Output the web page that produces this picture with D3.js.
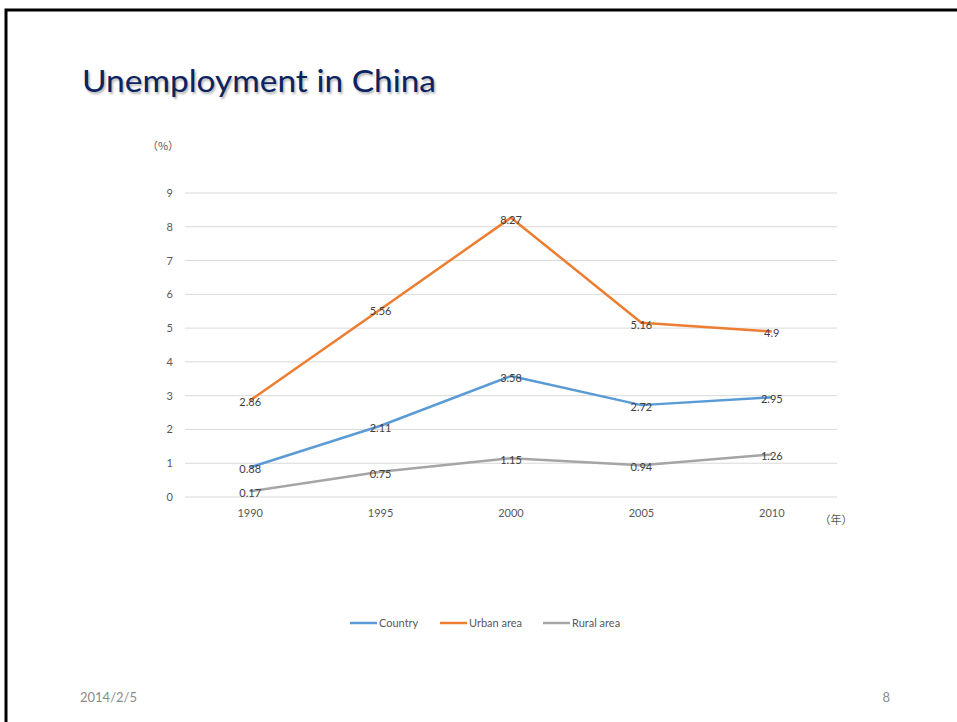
<!DOCTYPE html>
<html>
<head>
<meta charset="utf-8">
<script src="https://cdn.jsdelivr.net/npm/d3@7"></script>
<style>
  body { margin: 0; background: #fff; }
  svg { display: block; }
</style>
</head>
<body>
<svg id="slide" width="957" height="722"></svg>
<script>
// chart data
let years = ['1990', '1995', '2000', '2005', '2010'];
let country = [0.88, 2.11, 3.58, 2.72, 2.95];
let urban = [2.86, 5.56, 8.27, 5.16, 4.9];
let rural = [0.17, 0.75, 1.15, 0.94, 1.26];
let yTicks = [0, 1, 2, 3, 4, 5, 6, 7, 8, 9];

let seriesList = [
	{'name': 'Country', 'values': country, 'color': '#5b9bd5'},
	{'name': 'Urban area', 'values': urban, 'color': '#ed7d31'},
	{'name': 'Rural area', 'values': rural, 'color': '#a5a5a5'}
];

let font = 'Lato';
let svg = d3.select('#slide');

// soft shadow for the title
svg.append('defs').append('filter')
	.attr('id', 'blur')
	.append('feGaussianBlur')
	.attr('stdDeviation', 0.8);

// slide frame
svg.append('rect')
	.attr('x', 6)
	.attr('y', 10)
	.attr('width', 1000)
	.attr('height', 800)
	.attr('fill', 'none')
	.attr('stroke', '#000')
	.attr('stroke-width', 3);

svg.append('text')
	.text('Unemployment in China')
	.attr('x', 83.5)
	.attr('y', 93.5)
	.attr('font-family', font)
	.attr('font-size', 31)
	.attr('textLength', 354)
	.attr('lengthAdjust', 'spacingAndGlyphs')
	.attr('fill', '#b0b0b0')
	.attr('filter', 'url(#blur)');
svg.append('text')
	.text('Unemployment in China')
	.attr('x', 82)
	.attr('y', 92)
	.attr('font-family', font)
	.attr('font-size', 31)
	.attr('textLength', 354)
	.attr('lengthAdjust', 'spacingAndGlyphs')
	.attr('fill', '#0b2360');

let plotLeft = 185, plotRight = 837, plotTop = 193, plotBottom = 497;

let x = d3.scaleBand().domain(years).range([plotLeft, plotRight]);
let y = d3.scaleLinear().domain([0, 9]).range([plotBottom, plotTop]);

// gridlines
svg.append('g')
	.selectAll('line')
	.data(yTicks)
	.enter().append('line')
	.attr('x1', plotLeft)
	.attr('x2', plotRight)
	.attr('y1', function (d) { return y(d); })
	.attr('y2', function (d) { return y(d); })
	.attr('stroke', '#d9d9d9')
	.attr('stroke-width', 1);

// y axis labels
let yAxis = svg.append('g')
	.attr('transform', 'translate(' + (plotLeft - 12) + ',0)')
	.call(d3.axisLeft(y).tickValues(yTicks).tickSize(0).tickPadding(0));
yAxis.select('.domain').remove();
yAxis.selectAll('text')
	.attr('font-family', font)
	.attr('font-size', 11)
	.attr('fill', '#595959');

// x axis labels
let xAxis = svg.append('g')
	.attr('transform', 'translate(0,' + (plotBottom + 12) + ')')
	.call(d3.axisBottom(x).tickSize(0).tickPadding(0));
xAxis.select('.domain').remove();
xAxis.selectAll('text')
	.attr('font-family', font)
	.attr('font-size', 11)
	.attr('fill', '#595959');

// unit labels
svg.append('text')
	.text('（%）')
	.attr('x', 163)
	.attr('y', 150)
	.attr('text-anchor', 'middle')
	.attr('font-family', 'Noto Sans CJK SC')
	.attr('font-size', 11)
	.attr('fill', '#595959');
svg.append('text')
	.text('（年）')
	.attr('x', 836)
	.attr('y', 524)
	.attr('text-anchor', 'middle')
	.attr('font-family', 'Noto Sans CJK SC')
	.attr('font-size', 11)
	.attr('fill', '#595959');

let line = d3.line()
	.x(function (d, i) { return x(years[i]) + x.bandwidth() / 2; })
	.y(function (d) { return y(d); });

for (let s of seriesList) {
	svg.append('path')
		.datum(s.values)
		.attr('d', line)
		.attr('fill', 'none')
		.attr('stroke', s.color)
		.attr('stroke-width', 2.5)
		.attr('stroke-linejoin', 'round');
}

// data labels sit on top of the points
for (let s of seriesList) {
	svg.append('g')
		.selectAll('text')
		.data(s.values)
		.enter().append('text')
		.text(function (d) { return d; })
		.attr('x', function (d, i) { return x(years[i]) + x.bandwidth() / 2; })
		.attr('y', function (d) { return y(d) + 6; })
		.attr('text-anchor', 'middle')
		.attr('font-family', font)
		.attr('font-size', 11)
		.attr('fill', '#404040');
}

// legend
let legendX = [350, 440, 543];
seriesList.forEach(function (s, i) {
	let group = svg.append('g');
	group.append('line')
		.attr('x1', legendX[i])
		.attr('x2', legendX[i] + 27)
		.attr('y1', 623)
		.attr('y2', 623)
		.attr('stroke', s.color)
		.attr('stroke-width', 2.5);
	group.append('text')
		.text(s.name)
		.attr('x', legendX[i] + 29)
		.attr('y', 627)
		.attr('font-family', font)
		.attr('font-size', 11)
		.attr('fill', '#595959');
});

// footer
svg.append('text')
	.text('2014/2/5')
	.attr('x', 80)
	.attr('y', 702)
	.attr('font-family', font)
	.attr('font-size', 13)
	.attr('fill', '#8b8b8b');
svg.append('text')
	.text('8')
	.attr('x', 890)
	.attr('y', 702)
	.attr('text-anchor', 'end')
	.attr('font-family', font)
	.attr('font-size', 13)
	.attr('fill', '#8b8b8b');
</script>
</body>
</html>
